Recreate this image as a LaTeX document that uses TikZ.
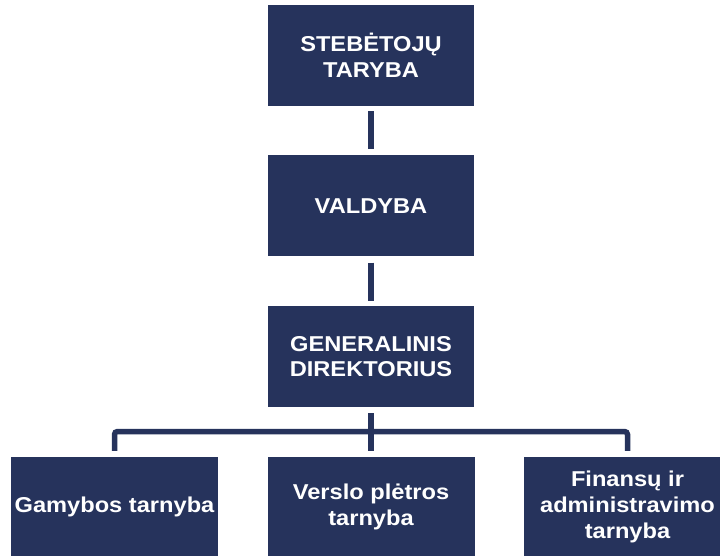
\documentclass[tikz,border=0pt]{standalone}
\usepackage{fontspec}
\newfontfamily\boxfont{Liberation Sans}[FakeStretch=1.1]
\definecolor{navy}{RGB}{38,51,92}
\begin{document}
\begin{tikzpicture}[x=1pt,y=1pt,
  orgbox/.style={fill=navy, draw=none, minimum width=206pt, minimum height=101pt,
    inner sep=0pt, align=center, text=white,
    font=\boxfont\bfseries\fontsize{21.5}{25.8}\selectfont},
  conn/.style={draw=navy, line width=5.5pt}]
\clip (0,0) rectangle (720,555);
\fill[white] (0,0) rectangle (720,555);
\node[orgbox] (top) at (371,499.5) {STEBĖTOJŲ\\TARYBA};
\node[orgbox] (val) at (371,349) {VALDYBA};
\node[orgbox] (gen) at (371,198.5) {GENERALINIS\\DIREKTORIUS};
\node[orgbox, minimum width=207pt, minimum height=100pt] (b1) at (114.5,48) {Gamybos tarnyba};
\node[orgbox, minimum width=207pt, minimum height=100pt] (b2) at (371,48) {Verslo plėtros\\tarnyba};
\node[orgbox, minimum width=207pt, minimum height=100pt] (b3) at (627.5,48) {Finansų ir\\administravimo\\tarnyba};
\coordinate (bus) at (371,123.5);
\draw[conn, shorten <=5pt, shorten >=6pt] (top.south) -- (val.north);
\draw[conn, shorten <=6pt, shorten >=5pt] (val.south) -- (gen.north);
\draw[conn, shorten <=6pt] (gen.south) -- (bus);
\draw[conn, rounded corners=3pt, shorten <=6pt, shorten >=6pt]
  (b1.north) -- (b1.north |- bus) -- (b3.north |- bus) -- (b3.north);
\draw[conn, shorten >=6pt] (bus) -- (b2.north);
\end{tikzpicture}
\end{document}
